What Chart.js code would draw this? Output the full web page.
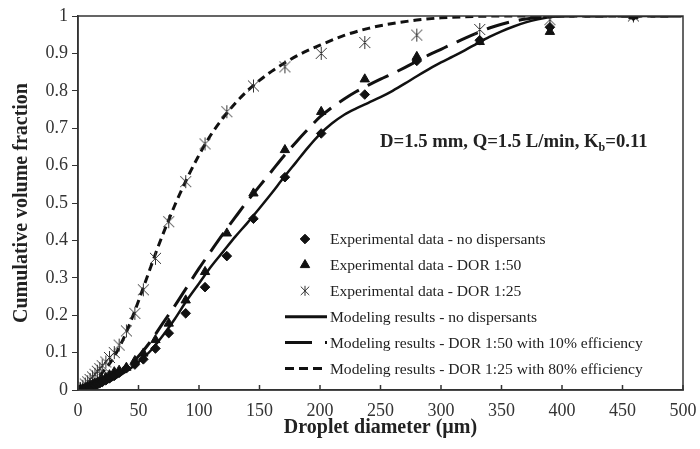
<!DOCTYPE html>
<html>
<head>
<meta charset="utf-8">
<script src="https://cdn.jsdelivr.net/npm/chart.js@4.4.1/dist/chart.umd.min.js"></script>
<style>
  html, body { margin: 0; padding: 0; background: #fff; }
  #wrap { width: 700px; height: 449px; position: relative; }
</style>
</head>
<body>
<div id="wrap"><canvas id="dropChart"></canvas></div>
<script>
// experimental droplet size bins (um)
const expX = [2, 4, 6, 8, 10, 12, 14, 16, 18, 20, 23, 26, 30, 34, 40, 47, 54, 64, 75, 89, 105, 123, 145, 171, 201, 237, 280, 332, 390, 459];
const expNoDisp = [0.001, 0.002, 0.003, 0.005, 0.007, 0.009, 0.012, 0.015, 0.018, 0.021, 0.026, 0.031, 0.038, 0.046, 0.058, 0.068, 0.082, 0.111, 0.152, 0.205, 0.275, 0.358, 0.458, 0.569, 0.686, 0.790, 0.880, 0.935, 0.970, 1.0];
const expDor50 = [0.002, 0.003, 0.005, 0.008, 0.011, 0.014, 0.017, 0.020, 0.024, 0.028, 0.033, 0.040, 0.048, 0.052, 0.060, 0.078, 0.098, 0.134, 0.178, 0.240, 0.316, 0.419, 0.526, 0.642, 0.744, 0.831, 0.891, 0.931, 0.958, 1.0];
const expDor25 = [0.004, 0.010, 0.016, 0.022, 0.028, 0.035, 0.042, 0.050, 0.057, 0.065, 0.075, 0.087, 0.100, 0.120, 0.158, 0.205, 0.268, 0.352, 0.450, 0.557, 0.658, 0.744, 0.813, 0.864, 0.900, 0.929, 0.949, 0.964, 0.990, 1.0];

// modeling results
const modelX = [0, 10, 20, 30, 40, 50, 60, 70, 80, 90, 100, 110, 120, 130, 140, 150, 160, 170, 180, 190, 200, 210, 220, 230, 240, 250, 260, 270, 280, 290, 300, 310, 320, 330, 340, 350, 360, 370, 380, 390, 400, 450, 500];
const modelNoDisp = [0, 0.005, 0.015, 0.03, 0.05, 0.075, 0.105, 0.145, 0.19, 0.24, 0.285, 0.33, 0.37, 0.41, 0.447, 0.486, 0.526, 0.568, 0.608, 0.648, 0.684, 0.713, 0.736, 0.753, 0.768, 0.783, 0.8, 0.819, 0.839, 0.858, 0.876, 0.892, 0.909, 0.927, 0.944, 0.959, 0.972, 0.983, 0.991, 0.997, 1, 1, 1];
const modelDor50 = [0, 0.006, 0.018, 0.035, 0.058, 0.09, 0.13, 0.178, 0.225, 0.275, 0.325, 0.372, 0.418, 0.462, 0.505, 0.545, 0.585, 0.625, 0.662, 0.697, 0.73, 0.756, 0.778, 0.798, 0.815, 0.831, 0.846, 0.862, 0.879, 0.896, 0.911, 0.926, 0.941, 0.955, 0.968, 0.978, 0.986, 0.992, 0.996, 0.999, 1, 1, 1];
const model25X = [0, 5, 10, 15, 20, 25, 30, 35, 40, 45, 50, 55, 60, 65, 70, 75, 80, 90, 100, 110, 120, 130, 140, 150, 160, 170, 180, 190, 200, 220, 240, 260, 280, 300, 320, 350, 400, 500];
const modelDor25 = [0, 0.008, 0.018, 0.03, 0.046, 0.066, 0.09, 0.12, 0.155, 0.195, 0.238, 0.283, 0.328, 0.373, 0.415, 0.455, 0.494, 0.565, 0.628, 0.683, 0.728, 0.767, 0.8, 0.828, 0.852, 0.873, 0.892, 0.908, 0.922, 0.948, 0.967, 0.98, 0.989, 0.995, 0.998, 1, 1, 1];

const xTickLabels = ['0', '50', '100', '150', '200', '250', '300', '350', '400', '450', '500'];
const yTickLabels = ['0', '0.1', '0.2', '0.3', '0.4', '0.5', '0.6', '0.7', '0.8', '0.9', '1'];
const seriesNames = [
  'Experimental data - no dispersants',
  'Experimental data - DOR 1:50',
  'Experimental data - DOR 1:25',
  'Modeling results - no dispersants',
  'Modeling results - DOR 1:50 with 10% efficiency',
  'Modeling results - DOR 1:25 with 80% efficiency'
];

const SERIF = '"Liberation Serif", "Times New Roman", serif';
const INK = '#111';

function pts(xs, ys) {
  return xs.map((x, i) => ({ x: x, y: ys[i] }));
}

// asterisk marker: an X with a vertical bar through it
function makeAsterisk(r) {
  const c = document.createElement('canvas');
  const s = Math.ceil(r * 2 + 2);
  c.width = s; c.height = s;
  const g = c.getContext('2d');
  const m = s / 2, d = r * 0.85;
  g.strokeStyle = '#333';
  g.lineWidth = 1;
  g.beginPath();
  g.moveTo(m - d, m - d); g.lineTo(m + d, m + d);
  g.moveTo(m + d, m - d); g.lineTo(m - d, m + d);
  g.moveTo(m, m - r); g.lineTo(m, m + r);
  g.stroke();
  return c;
}
const asteriskBig = makeAsterisk(6.5);
const asteriskSmall = makeAsterisk(5);

const markerStyles = [
  { pointStyle: 'rectRot', radius: 4.8, borderWidth: 1, backgroundColor: INK, borderColor: INK },
  { pointStyle: 'triangle', radius: 5.4, borderWidth: 1, backgroundColor: INK, borderColor: INK },
  { pointStyle: asteriskBig, radius: 6.5, borderWidth: 1, backgroundColor: INK, borderColor: '#333' }
];

function expDataset(label, ys, m) {
  return {
    label: label,
    data: pts(expX, ys),
    showLine: false,
    pointStyle: m.pointStyle,
    pointRadius: m.radius,
    pointBackgroundColor: m.backgroundColor,
    pointBorderColor: m.borderColor,
    pointBorderWidth: m.borderWidth
  };
}

function modelDataset(label, xs, ys, dash, width) {
  return {
    label: label,
    data: pts(xs, ys),
    showLine: true,
    borderColor: INK,
    borderWidth: width,
    borderDash: dash,
    pointRadius: 0,
    cubicInterpolationMode: 'monotone',
    fill: false
  };
}

// frame, inward x ticks, in-plot legend and annotation
const decorPlugin = {
  id: 'decor',
  afterDraw(chart) {
    const ctx = chart.ctx;
    const a = chart.chartArea;
    const xs = chart.scales.x;
    ctx.save();
    ctx.strokeStyle = '#333';
    ctx.lineWidth = 1.5;
    ctx.strokeRect(a.left, a.top, a.right - a.left, a.bottom - a.top);
    for (let i = 0; i < xTickLabels.length; i++) {
      const px = xs.getPixelForValue(Number(xTickLabels[i]));
      ctx.beginPath();
      ctx.moveTo(px, a.bottom);
      ctx.lineTo(px, a.bottom - 5);
      ctx.stroke();
    }

    // legend
    const rowY0 = 239, rowGap = 25.9, mx = 305, tx = 330;
    ctx.font = '15.6px ' + SERIF;
    ctx.textBaseline = 'middle';
    ctx.textAlign = 'left';
    seriesNames.forEach((name, i) => {
      const ry = rowY0 + i * rowGap;
      if (i < 2) {
        const m = markerStyles[i];
        ctx.fillStyle = m.backgroundColor;
        ctx.strokeStyle = m.borderColor;
        ctx.lineWidth = m.borderWidth;
        Chart.helpers.drawPoint(ctx, {
          pointStyle: m.pointStyle,
          radius: m.radius,
          rotation: 0,
          borderWidth: m.borderWidth
        }, mx, ry);
      } else if (i === 2) {
        ctx.drawImage(asteriskSmall, mx - asteriskSmall.width / 2, ry - asteriskSmall.height / 2);
      } else {
        ctx.strokeStyle = INK;
        ctx.lineWidth = 3;
        ctx.beginPath();
        if (i === 3) {
          ctx.setLineDash([]);
          ctx.moveTo(285, ry); ctx.lineTo(327, ry);
        } else if (i === 4) {
          ctx.setLineDash([]);
          ctx.moveTo(285, ry); ctx.lineTo(312, ry);
          ctx.moveTo(325, ry); ctx.lineTo(327, ry);
        } else {
          ctx.setLineDash([9, 5]);
          ctx.moveTo(285, ry); ctx.lineTo(327, ry);
        }
        ctx.stroke();
        ctx.setLineDash([]);
      }
      ctx.fillStyle = '#222';
      ctx.fillText(name, tx, ry + 1);
    });

    // condition annotation with subscript
    let ax = 380;
    const ay = 147;
    ctx.textBaseline = 'alphabetic';
    ctx.fillStyle = '#222';
    ctx.font = 'bold 18.7px ' + SERIF;
    const part1 = 'D=1.5 mm, Q=1.5 L/min, K';
    ctx.fillText(part1, ax, ay);
    ax += ctx.measureText(part1).width;
    ctx.font = 'bold 12px ' + SERIF;
    ctx.fillText('b', ax, ay + 4);
    ax += ctx.measureText('b').width;
    ctx.font = 'bold 18.7px ' + SERIF;
    ctx.fillText('=0.11', ax, ay);
    ctx.restore();
  }
};

new Chart(document.getElementById('dropChart'), {
  type: 'scatter',
  data: {
    datasets: [
      expDataset(seriesNames[0], expNoDisp, markerStyles[0]),
      expDataset(seriesNames[1], expDor50, markerStyles[1]),
      expDataset(seriesNames[2], expDor25, markerStyles[2]),
      modelDataset(seriesNames[3], modelX, modelNoDisp, [], 2.5),
      modelDataset(seriesNames[4], modelX, modelDor50, [23, 10], 3),
      modelDataset(seriesNames[5], model25X, modelDor25, [8, 5], 3)
    ]
  },
  options: {
    responsive: true,
    maintainAspectRatio: false,
    animation: false,
    layout: { padding: { top: 16, right: 17, left: 0, bottom: 0 } },
    plugins: {
      legend: { display: false },
      tooltip: { enabled: false }
    },
    scales: {
      x: {
        type: 'linear',
        min: 0,
        max: 500,
        afterFit: (s) => { s.height = 59; s.paddingRight = 0; s.paddingLeft = 0; },
        border: { display: true, color: '#333', width: 1.5 },
        grid: { display: true, drawOnChartArea: false, drawTicks: false },
        ticks: {
          stepSize: 50,
          padding: 10,
          color: '#333',
          font: { family: SERIF, size: 18 },
          callback: (v, i) => xTickLabels[i]
        },
        title: {
          display: true,
          text: 'Droplet diameter (\u00b5m)',
          color: '#222',
          font: { family: SERIF, size: 20, weight: 'bold' },
          padding: { top: 0, bottom: 9 }
        }
      },
      y: {
        type: 'linear',
        min: 0,
        max: 1,
        afterFit: (s) => { s.width = 78; },
        border: { display: true, color: '#333', width: 1.5 },
        grid: { display: true, drawOnChartArea: false, drawTicks: true, tickLength: 6, color: '#333' },
        ticks: {
          stepSize: 0.1,
          padding: 4,
          color: '#333',
          font: { family: SERIF, size: 18 },
          callback: (v, i) => yTickLabels[i]
        },
        title: {
          display: true,
          text: 'Cumulative volume fraction',
          color: '#222',
          font: { family: SERIF, size: 20, weight: 'bold' },
          padding: { top: 10, bottom: 0 }
        }
      }
    }
  },
  plugins: [decorPlugin]
});
</script>
</body>
</html>
